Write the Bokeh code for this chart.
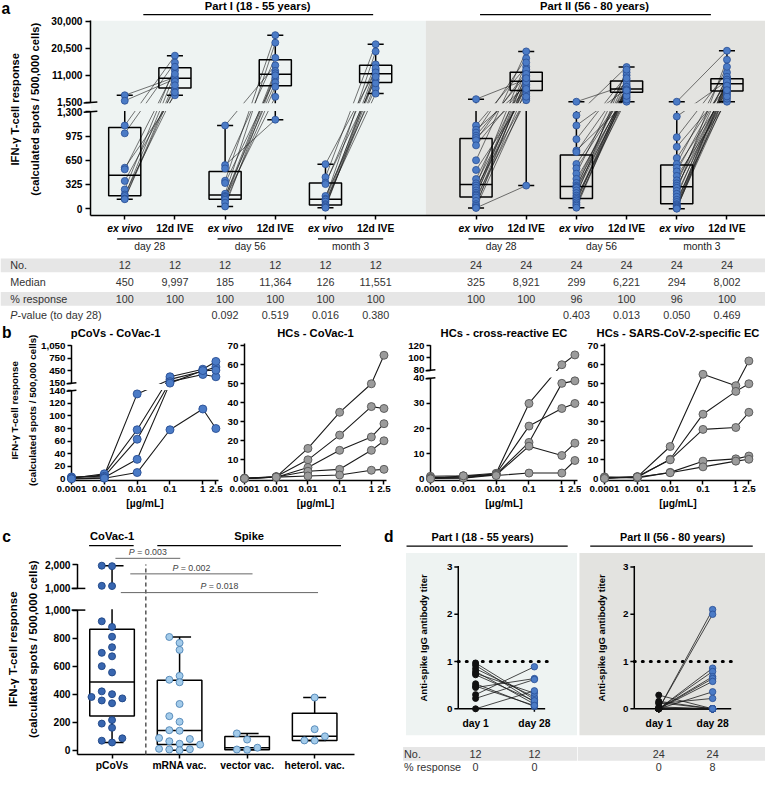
import numpy as np
from bokeh.plotting import figure
from bokeh.models import Range1d, FixedTicker
from bokeh.layouts import row, column
from bokeh.embed import file_html
from bokeh.resources import INLINE
from bokeh.core.properties import value

# ======================= DATA =======================
a_parts = ["Part I (18 - 55 years)", "Part II (56 - 80 years)"]
a_timepoints = ["day 28", "day 56", "month 3"]
a_conditions = ["ex vivo", "12d IVE"]

p1_d28_exvivo = [4000, 2080, 1117, 1012, 550, 528, 372, 258, 190, 170, 135, 127]
p1_d28_ive = [10300, 9694, 17900, 15500, 4000, 12800, 6200, 14000, 5000, 11500, 8800, 7500]
p1_d56_exvivo = [1117, 585, 540, 376, 344, 200, 170, 160, 140, 120, 80, 30]
p1_d56_ive = [14500, 1195, 17130, 25100, 10000, 22460, 8500, 12550, 3450, 11728, 7000, 11000]
p1_m3_exvivo = [598, 423, 350, 330, 170, 132, 120, 95, 60, 45, 25, 13]
p1_m3_ive = [12800, 21900, 9500, 14840, 6500, 19390, 11100, 4580, 13500, 8200, 12002, 10500]

p2_d28_exvivo = [2630, 1117, 1060, 1021, 980, 950, 920, 850, 650, 520, 397, 340,
                 310, 279, 245, 213, 190, 175, 150, 105, 61, 39, 17, 10]
p2_d28_ive = [9600, 14000, 7300, 17000, 11000, 5500, 12300, 8300, 19390, 4500, 10500, 6800,
              15500, 3000, 9142, 13000, 7800, 11500, 2290, 8700, 6200, 10000, 3500, 310]
p2_d56_exvivo = [1740, 1253, 1117, 933, 781, 760, 600, 541, 470, 400, 345, 308,
                 290, 280, 245, 210, 175, 150, 130, 110, 85, 60, 40, 13]
p2_d56_ive = [7600, 13910, 6180, 11000, 1740, 9300, 6400, 5900, 12000, 4500, 8300, 6000,
              10000, 3200, 6700, 5400, 13000, 2500, 6262, 5000, 7000, 3800, 6100, 5700]
p2_m3_exvivo = [1740, 1238, 960, 830, 680, 600, 550, 500, 440, 380, 340, 308,
                280, 240, 200, 160, 120, 90, 60, 45, 30, 15, 5, 0]
p2_m3_ive = [19630, 9000, 12000, 6600, 8500, 14000, 5400, 9900, 1740, 7000, 10500, 4300,
             8204, 16500, 6200, 9300, 2800, 7800, 9500, 5000, 8800, 3600, 7400, 5800]

a_ticks_low = [0, 325, 650, 975, 1300]
a_ticks_high = [1500, 11000, 20500, 30000]

tab_rows = ["No.", "Median", "% response", "P-value (to day 28)"]
tab_no = ["12"] * 6 + ["24"] * 6
tab_median = ["450", "9,997", "185", "11,364", "126", "11,551", "325", "8,921", "299", "6,221", "294", "8,002"]
tab_resp = ["100"] * 6 + ["100", "100", "96", "100", "96", "100"]
tab_p = ["", "", "0.092", "0.519", "0.016", "0.380", "", "", "0.403", "0.013", "0.050", "0.469"]

b_conc = [0.0001, 0.001, 0.01, 0.1, 1, 2.5]
b_conc_labels = ["0.0001", "0.001", "0.01", "0.1", "1", "2.5"]
b_titles = ["pCoVs - CoVac-1", "HCs - CoVac-1", "HCs - cross-reactive EC", "HCs - SARS-CoV-2-specific EC"]
b_pcovs_covac1 = [[2, 6, 135, 244, 440, 541],
                  [1, 8, 78, 307, 488, 675],
                  [3, 4, 63, 190, 361, 307],
                  [1, 2, 31, 155, 455, 464],
                  [0, 1, 10, 78, 111, 80]]
b_hcs_covac1 = [[0.3, 1.0, 16, 35, 50, 65],
                [0.2, 1.2, 10, 23, 38, 37],
                [0.3, 0.8, 6, 15, 22, 29],
                [0.1, 1.0, 4, 5, 15, 20],
                [0.2, 0.9, 1.5, 2, 4.5, 5]]
b_hcs_cross_ec = [[1.0, 1.2, 2.2, 30, 89, 105],
                  [0.5, 0.8, 2.0, 21, 28, 30],
                  [0.3, 0.5, 1.8, 14.5, 38, 39],
                  [0.2, 0.3, 1.5, 13, 9.3, 14.2],
                  [0.0, 1.2, 1.3, 2.3, 2.3, 7.3]]
b_hcs_sars_ec = [[0.5, 1.0, 17, 55, 49, 62],
                 [1.0, 0.8, 10.3, 34, 46, 50],
                 [0.3, 1.2, 10, 26, 27, 35],
                 [0.8, 0.5, 3.4, 9.3, 10.5, 12],
                 [0.2, 1.0, 3.2, 6.3, 9.3, 10.3]]
b1_ticks_low = [0, 20, 40, 60, 80, 100, 120, 140]
b1_ticks_high = [150, 450, 750, 1050]
b24_ticks = [0, 10, 20, 30, 40, 50, 60, 70]
b3_ticks_low = [0, 10, 20, 30, 40]
b3_ticks_high = [80, 100, 120]

c_groups = ["pCoVs", "mRNA vac.", "vector vac.", "heterol. vac."]
c_pcovs = [1960, 1940, 1110, 1100, 920, 880, 810, 735, 695, 670, 600, 555,
           420, 400, 380, 370, 355, 335, 215, 190, 160, 85, 68, 55]
c_mrna = [808, 766, 716, 531, 503, 485, 330, 243, 203, 143, 139, 87, 80, 64, 46, 40, 10, 7, 5, 0]
c_vector = [120, 76, 18, 5, 3]
c_heterol = [376, 150, 99, 70, 69]
c_headers = ["CoVac-1", "Spike"]
c_pvalues = ["0.003", "0.002", "0.018"]
c_ticks_low = [0, 200, 400, 600, 800, 1000]
c_ticks_high = [1000, 2000]

d_days = ["day 1", "day 28"]
d_cutoff = 1.0
d1_day1 = [0.97, 0.92, 0.85, 0.79, 0.75, 0.72, 0.53, 0.48, 0.45, 0.30, 0.22, 0.00]
d1_day28 = [0.20, 0.14, 0.25, 0.10, 0.33, 0.17, 0.05, 0.07, 0.64, 0.89, 0.62, 0.38]
d2_day1 = [0.29, 0.16, 0.13, 0.11, 0.04, 0.02] + [0.0] * 18
d2_day28 = [0.0, 0.0, 0.0, 0.22, 0.0, 0.0, 2.10, 2.00, 0.86, 0.79, 0.68, 0.64, 0.58, 0.36] + [0.0] * 10
d1_tab_no, d1_tab_resp = ["12", "12"], ["0", "0"]
d2_tab_no, d2_tab_resp = ["24", "24"], ["0", "8"]
d_ticks = [0, 1, 2, 3]

Y_LINES = ["IFN-\u03b3 T-cell response", "(calculated spots / 500,000 cells)"]
D_YLABEL = "Anti-spike IgG antibody titer"

# ======================= STYLE / HELPERS =======================
K = 0.978
def s(v):
    return int(round(v * K))
def fs(v):
    return "%.1fpx" % (v * K)

FONT = "Liberation Sans"
BLACK = "#111111"
BLUE, BLUE_D = "#4b7bc6", "#284e94"
GRAY, GRAY_D = "#9b9b9b", "#555555"
CDARK, CDARK_D = "#3866b0", "#1d4483"
CLIGHT, CLIGHT_D = "#a3cbea", "#4f85b6"
BG1, BG2 = "#eef3f2", "#e3e3e0"
BAND = "#e6e6e6"
VERT = np.pi / 2


def key(v):
    v = float(v)
    return int(v) if v.is_integer() else v


def make_fig(box, frame, xr, yr, x_type="linear", axes=True):
    x0, y0, x1, y1 = box
    fl, ft, fr, fb = frame
    kw = dict(width=s(x1) - s(x0), height=s(y1) - s(y0), x_range=xr, y_range=yr,
              x_axis_type=x_type, toolbar_location=None, output_backend="svg", title=None,
              min_border_left=s(fl) - s(x0), min_border_right=s(x1) - s(fr),
              min_border_top=s(ft) - s(y0), min_border_bottom=s(y1) - s(fb))
    if not axes:
        kw.update(x_axis_location=None, y_axis_location=None)
    p = figure(**kw)
    p.outline_line_color = None
    p.grid.visible = False
    p.frame_align = False
    return p


def style_axes(p, xsize, ysize, xtick=4, ytick=5, xstand=2, ystand=3):
    for ax, size, tick, st in ((p.xaxis, xsize, xtick, xstand), (p.yaxis, ysize, ytick, ystand)):
        ax.axis_line_width = 1.5
        ax.axis_line_color = "black"
        ax.major_tick_line_width = 1.5
        ax.major_tick_line_color = "black"
        ax.major_tick_out = tick
        ax.major_tick_in = 0
        ax.minor_tick_line_color = None
        ax.major_label_text_font = FONT
        ax.major_label_text_font_style = "bold"
        ax.major_label_text_font_size = fs(size)
        ax.major_label_text_color = "black"
        ax.major_label_standoff = st


def set_yticks(p, vals, tf):
    ts = [key(round(float(tf(v)), 3)) for v in vals]
    p.yaxis.ticker = FixedTicker(ticks=ts)
    p.yaxis.major_label_overrides = {t: f"{v:,}" for t, v in zip(ts, vals)}


def txt(p, xs, ys, texts, size, style="bold", align="center", baseline="middle", color="black", angle=0.0):
    p.text(x=list(xs), y=list(ys), text=list(texts), text_font=value(FONT),
           text_font_size=fs(size), text_font_style=style, text_align=align,
           text_baseline=baseline, text_color=color, angle=angle, level="overlay")


def draw_boxes(p, positions, datasets, tf, hw, cw, lw=1.5):
    L, R, B, T = [], [], [], []
    sx0, sy0, sx1, sy1 = [], [], [], []
    for x, d in zip(positions, datasets):
        v = np.asarray(d, float)
        q1, med, q3 = np.percentile(v, [25, 50, 75], method="weibull")
        lo, hi = v.min(), v.max()
        L.append(x - hw); R.append(x + hw)
        B.append(float(tf(q1))); T.append(float(tf(q3)))
        for xa, ya, xb, yb in [(x - hw, med, x + hw, med), (x, q3, x, hi), (x, q1, x, lo),
                               (x - cw, hi, x + cw, hi), (x - cw, lo, x + cw, lo)]:
            sx0.append(xa); sy0.append(float(tf(ya))); sx1.append(xb); sy1.append(float(tf(yb)))
    p.quad(left=L, right=R, bottom=B, top=T, fill_color=None, line_color="black", line_width=lw)
    p.segment(x0=sx0, y0=sy0, x1=sx1, y1=sy1, line_color="black", line_width=lw)


def swarm(tv, thr=6.5):
    order = np.argsort(tv, kind="stable")
    placed = []
    offs = np.zeros(len(tv))
    cands = [0] + [c for j in range(1, 8) for c in (-j, j)]
    for i in order:
        for c in cands:
            if all(not (o == c and abs(tv[i] - t) < thr) for o, t in placed):
                break
        offs[i] = c
        placed.append((c, tv[i]))
    return offs

# ======================= PANEL a =======================
A_X0, A_U = 127.0, 51.3
A_POS = [0, 1, 2, 3, 4, 5, 7, 8, 9, 10, 11, 12]


def ta(v):
    v = np.asarray(v, dtype=float)
    return np.where(v <= 1400, v * 99.3 / 1300, 109.0 + (v - 1500) * 83.3 / 28500)


pa = make_fig((0, 0, 782, 258), (92, 20, 782, 220),
              Range1d((92 - A_X0) / A_U, (782 - A_X0) / A_U), Range1d(-7, 193))
xa0, xa1 = pa.x_range.start, pa.x_range.end
style_axes(pa, 10.5, 10.4, xtick=4, ytick=5, xstand=2, ystand=3)
pa.xaxis.ticker = FixedTicker(ticks=A_POS)
pa.xaxis.major_label_text_color = None
pa.yaxis.axis_line_color = None
set_yticks(pa, a_ticks_low + a_ticks_high, ta)

pa.quad(left=[xa0, 6], right=[6, xa1], bottom=[-7, -7], top=[193, 193],
        fill_color=[BG1, BG2], line_color=None, level="underlay")

a_sets = [(p1_d28_exvivo, p1_d28_ive), (p1_d56_exvivo, p1_d56_ive), (p1_m3_exvivo, p1_m3_ive),
          (p2_d28_exvivo, p2_d28_ive), (p2_d56_exvivo, p2_d56_ive), (p2_m3_exvivo, p2_m3_ive)]
lx0, ly0, lx1, ly1 = [], [], [], []
for k, (ex, ive) in enumerate(a_sets):
    xe, xi = A_POS[2 * k], A_POS[2 * k + 1]
    lx0 += [xe] * len(ex); lx1 += [xi] * len(ive)
    ly0 += list(ta(ex)); ly1 += list(ta(ive))
pa.segment(x0=lx0, y0=ly0, x1=lx1, y1=ly1, line_color="#1a1a1a", line_width=0.6)

a_all = [d for pair in a_sets for d in pair]
draw_boxes(pa, A_POS, a_all, ta, 0.32, 0.16)
pa.quad(left=[xa0, 6], right=[6, xa1], bottom=[100.3, 100.3], top=[108.1, 108.1],
        fill_color=[BG1, BG2], line_color=None)
pxs, pys = [], []
for x, d in zip(A_POS, a_all):
    pxs += [x] * len(d); pys += list(ta(d))
pa.scatter(x=pxs, y=pys, size=7, fill_color=BLUE, line_color=BLUE_D, line_width=0.8, level="overlay")

dx = 7 / A_U
pa.segment(x0=[xa0, xa0], y0=[-7, 109], x1=[xa0, xa0], y1=[99.3, 193], line_color="black",
           line_width=1.5, level="overlay")
pa.segment(x0=[xa0 - dx] * 2, y0=[98.8, 108.5], x1=[xa0 + dx] * 2, y1=[99.8, 109.5],
           line_color="black", line_width=1.5, level="overlay")

txt(pa, [(15 - A_X0) / A_U, (35 - A_X0) / A_U], [102, 102], Y_LINES, 11.5, angle=VERT)
txt(pa, A_POS[0::2], [-20] * 6, [a_conditions[0]] * 6, 10.5, style="bold italic")
txt(pa, A_POS[1::2], [-20] * 6, [a_conditions[1]] * 6, 10.5)
g_cent = [(A_POS[2 * k] + A_POS[2 * k + 1]) / 2 for k in range(6)]
pa.segment(x0=[c - 0.65 for c in g_cent], y0=[-31] * 6, x1=[c + 0.65 for c in g_cent], y1=[-31] * 6,
           line_color="black", line_width=1.2, level="overlay")
txt(pa, g_cent, [-39] * 6, a_timepoints * 2, 10.5, style="normal", color="#222222")
txt(pa, [2.65, 9.36], [207.5, 207.5], a_parts, 11.5)
pa.segment(x0=[0.37, 7.08], y0=[199, 199], x1=[4.95, 11.68], y1=[199, 199], line_color="black",
           line_width=1.2, level="overlay")
txt(pa, [(1 - A_X0) / A_U], [205.5], ["a"], 16, align="left")

# ---- table a
pt = make_fig((0, 258, 782, 329), (0, 258, 782, 329), Range1d(0, 782), Range1d(329, 258), axes=False)
ROWS = [271, 288, 305, 321]
pt.quad(left=[0, 0], right=[782, 782], bottom=[ROWS[0] + 7, ROWS[2] + 7], top=[ROWS[0] - 7, ROWS[2] - 7],
        fill_color=BAND, line_color=None)
txt(pt, [10, 10, 10], ROWS[:3], tab_rows[:3], 11, style="normal", align="left", color="#333333")
txt(pt, [10], [ROWS[3]], [tab_rows[3][0]], 11, style="italic", align="left", color="#333333")
txt(pt, [17.5], [ROWS[3]], [tab_rows[3][1:]], 11, style="normal", align="left", color="#333333")
col_px = [A_X0 + A_U * x for x in A_POS]
for r, vals in zip(ROWS, [tab_no, tab_median, tab_resp, tab_p]):
    txt(pt, col_px, [r] * 12, vals, 11, style="normal", color="#333333")

# ======================= PANEL b =======================
B_PPD = 33.5
def bx(dpx):
    return 10 ** (-4 + dpx / B_PPD)

def tb1(v):
    v = np.asarray(v, float)
    return np.where(v <= 145, v * 90 / 140, 97.6 + (v - 150) * 12.8 / 300)

def tb2(v):
    return np.asarray(v, float) * 136 / 70

def tb3(v):
    v = np.asarray(v, float)
    return np.where(v <= 60, v * 102.7 / 40, 111 + (v - 80) * 12.5 / 20)

b_data = [b_pcovs_covac1, b_hcs_covac1, b_hcs_cross_ec, b_hcs_sars_ec]
b_boxes = [(0, 329, 229, 540), (229, 329, 412, 540), (412, 329, 594, 540), (594, 329, 782, 540)]
b_frames = [(73, 351, 223, 491), (245, 351, 395, 491), (440, 351, 590, 491), (618, 351, 768, 491)]
b_tfs = [tb1, tb2, tb3, tb2]
b_ticks = [b1_ticks_low + b1_ticks_high, b24_ticks, b3_ticks_low + b3_ticks_high, b24_ticks]
b_breaks = [(90, 97.6), None, (102.7, 111), None]
b_title_dx = [45, 75, 75, 75]
b_fill = [(BLUE, BLUE_D), (GRAY, GRAY_D), (GRAY, GRAY_D), (GRAY, GRAY_D)]
b_figs = []
for i in range(4):
    tf = b_tfs[i]
    p = make_fig(b_boxes[i], b_frames[i], Range1d(1e-4, bx(150)), Range1d(-1.7, 138.3), x_type="log")
    style_axes(p, 10, 10, xtick=4, ytick=4, xstand=1, ystand=2)
    p.xaxis.ticker = FixedTicker(ticks=b_conc)
    p.xaxis.major_label_overrides = {key(c): l for c, l in zip(b_conc, b_conc_labels)}
    p.xaxis.axis_label = "[\u00b5g/mL]"
    p.xaxis.axis_label_text_font = FONT
    p.xaxis.axis_label_text_font_style = "bold"
    p.xaxis.axis_label_text_color = "black"
    p.xaxis.axis_label_text_font_size = fs(10.5)
    p.xaxis.axis_label_standoff = 3
    set_yticks(p, b_ticks[i], tf)
    p.multi_line(xs=[b_conc] * len(b_data[i]), ys=[list(tf(d)) for d in b_data[i]],
                 line_color="#1a1a1a", line_width=1.1)
    if b_breaks[i] is not None:
        lo, hi = b_breaks[i]
        p.yaxis.axis_line_color = None
        p.quad(left=[1e-4], right=[bx(150)], bottom=[lo + 0.8], top=[hi - 0.8], fill_color="white",
               line_color=None)
        p.segment(x0=[1e-4, 1e-4], y0=[-1.7, hi], x1=[1e-4, 1e-4], y1=[lo, 136.6], line_color="black",
                  line_width=1.5, level="overlay")
        p.segment(x0=[bx(-5)] * 2, y0=[lo - 0.5, hi - 0.5], x1=[bx(5)] * 2, y1=[lo + 0.5, hi + 0.5],
                  line_color="black", line_width=1.5, level="overlay")
    xs, ys = [], []
    for d in b_data[i]:
        xs += b_conc; ys += list(tf(d))
    p.scatter(x=xs, y=ys, size=8, fill_color=b_fill[i][0], line_color=b_fill[i][1], line_width=0.9,
              level="overlay")
    txt(p, [bx(b_title_dx[i])], [149.3], [b_titles[i]], 11.5)
    if i == 0:
        txt(p, [bx(-71)], [149.3], ["b"], 16, align="left")
        txt(p, [bx(15 - 73), bx(33 - 73)], [70, 70], Y_LINES, 10, angle=VERT)
    b_figs.append(p)

# ======================= PANEL c =======================
C_X0, C_U = 114.3, 69.0

def tc(v):
    v = np.asarray(v, float)
    return np.where(v <= 1000, v * 0.1443, 166.6 + (v - 1000) * 0.0244)

pc = make_fig((0, 540, 392, 790), (79, 575, 362, 772.7),
              Range1d((79 - C_X0) / C_U, (362 - C_X0) / C_U), Range1d(-4.4, 193.3))
xc0, xc1 = pc.x_range.start, pc.x_range.end
style_axes(pc, 10.5, 10.4, xtick=4, ytick=5, xstand=1, ystand=2)
pc.xaxis.ticker = FixedTicker(ticks=[0, 1, 2, 3])
pc.xaxis.major_label_overrides = {i: g for i, g in enumerate(c_groups)}
c_tick_t = [key(round(v * 0.1443, 3)) for v in c_ticks_low] + \
           [key(round(166.6 + (v - 1000) * 0.0244, 3)) for v in c_ticks_high]
pc.yaxis.ticker = FixedTicker(ticks=c_tick_t)
pc.yaxis.major_label_overrides = {t: f"{v:,}" for t, v in zip(c_tick_t, c_ticks_low + c_ticks_high)}
pc.yaxis.axis_line_color = None

c_data = [c_pcovs, c_mrna, c_vector, c_heterol]
draw_boxes(pc, [0, 1, 2, 3], c_data, tc, 0.33, 0.17)
pc.quad(left=[xc0], right=[xc1], bottom=[145.2], top=[165.7], fill_color="white", line_color=None)
pc.segment(x0=[0.5], y0=[-4.4], x1=[0.5], y1=[191.3], line_color="#555555", line_width=1.5,
           line_dash="4 3", level="overlay")
br_y = [197.6, 181.6, 162.3]
br_x0 = [0.05, 0.27, 0.13]
br_x1 = [1.01, 2.08, 3.05]
pc.segment(x0=br_x0, y0=br_y, x1=br_x1, y1=br_y, line_color="#666666", line_width=1, level="overlay")
br_c = [(a + b) / 2 for a, b in zip(br_x0, br_x1)]
anch = [c - 13.4 / C_U for c in br_c]
txt(pc, anch, [y + 1.2 for y in br_y], ["P"] * 3, 9, style="italic", align="right",
    baseline="bottom", color="#444444")
txt(pc, anch, [y + 1.2 for y in br_y], ["\u00a0= " + pv for pv in c_pvalues], 9, style="normal",
    align="left", baseline="bottom", color="#444444")
for gi, d in enumerate(c_data):
    tv = tc(d)
    offs = swarm(tv) * 10.5 / C_U
    fc, lc = (CDARK, CDARK_D) if gi == 0 else (CLIGHT, CLIGHT_D)
    pc.scatter(x=list(gi + offs), y=list(tv), size=7, fill_color=fc, line_color=lc, line_width=0.9,
               level="overlay")
dcx = 1 / C_U
pc.segment(x0=[xc0, xc0], y0=[-4.4, 166.6], x1=[xc0, xc0], y1=[144.3, 191.7], line_color="black",
           line_width=1.5, level="overlay")
pc.segment(x0=[xc0 - 6 * dcx] * 2, y0=[144.3, 166.6], x1=[xc0 + 8 * dcx] * 2, y1=[144.3, 166.6],
           line_color="black", line_width=1.5, level="overlay")
txt(pc, [(13.3 - C_X0) / C_U, (33.3 - C_X0) / C_U], [104, 104], Y_LINES, 11.8, angle=VERT)
txt(pc, [0.0, 2.03], [220.3, 220.3], c_headers, 11.5)
pc.segment(x0=[-0.34, 0.67], y0=[210.6, 210.6], x1=[0.32, 3.39], y1=[210.6, 210.6],
           line_color="black", line_width=1.2, level="overlay")
txt(pc, [(2 - C_X0) / C_U], [220.3], ["c"], 16, align="left")

# ======================= PANEL d =======================
D_PPU = 48.23          # px per titer unit
D_ZERO = 724.0         # y (px) of titer 0


def make_d(box, axis_box, cat_px, u, bg, bg_x, day1, day28, dot_end_px, label_px, part, head_cx,
           head_x0, head_x1, tab_no, tab_resp, band_x0, row_lab_px=None, letter_px=None):
    bx0, by0, bx1, by1 = box
    al, at, ar, ab = axis_box
    X = lambda px: (px - cat_px) / u
    Y = lambda py: (D_ZERO - py) / D_PPU
    p = make_fig(box, box, Range1d(X(bx0), X(bx1)), Range1d(Y(by1), Y(by0)), axes=False)
    p.quad(left=[X(bg_x[0])], right=[X(bg_x[1])], bottom=[Y(751)], top=[Y(565)], fill_color=bg,
           line_color=None, level="underlay")
    ax0 = X(al)
    p.segment(x0=[ax0, ax0], y0=[Y(ab), Y(ab)], x1=[ax0, X(ar)], y1=[Y(at) + 0.02, Y(ab)],
              line_color="black", line_width=1.5)
    p.segment(x0=[X(al - 4)] * len(d_ticks), y0=d_ticks, x1=[ax0] * len(d_ticks), y1=d_ticks,
              line_color="black", line_width=1.5)
    p.segment(x0=[0, 1], y0=[0, 0], x1=[0, 1], y1=[Y(ab + 3)] * 2, line_color="black", line_width=1.5)
    txt(p, [X(al - 6)] * len(d_ticks), d_ticks, [str(t) for t in d_ticks], 10, align="right")
    txt(p, [0, 1], [Y(738.5)] * 2, d_days, 10.5)
    txt(p, [X(label_px)], [1.5], [D_YLABEL], 9.7, angle=VERT)
    p.line(x=[ax0, X(dot_end_px)], y=[d_cutoff, d_cutoff], line_color="black",
           line_width=3, line_dash="1 7", line_cap="round")
    n = len(day1)
    p.segment(x0=[0] * n, y0=day1, x1=[1] * n, y1=day28, line_color="#1a1a1a", line_width=0.8)
    p.scatter(x=[0] * n, y=day1, size=6, fill_color=BLACK, line_color=BLACK, level="overlay")
    p.scatter(x=[1] * n, y=day28, size=6.5, fill_color=BLUE, line_color=BLUE_D, line_width=0.8,
              level="overlay")
    txt(p, [X(head_cx)], [Y(548.5)], [part], 11)
    p.segment(x0=[X(head_x0)], y0=[Y(558)], x1=[X(head_x1)], y1=[Y(558)], line_color="black",
              line_width=1.2)
    if letter_px is not None:
        txt(p, [X(letter_px)], [Y(548.5)], ["d"], 16, align="left")
    p.quad(left=[X(band_x0)], right=[X(bx1)], bottom=[Y(777)], top=[Y(763)], fill_color=BAND,
           line_color=None, level="underlay")
    if row_lab_px is not None:
        txt(p, [X(row_lab_px)] * 2, [Y(770), Y(783)], [tab_rows[0], tab_rows[2]], 11, style="normal",
            align="left", color="#333333")
    txt(p, [0, 1], [Y(770)] * 2, tab_no, 11, style="normal", color="#333333")
    txt(p, [0, 1], [Y(783)] * 2, tab_resp, 11, style="normal", color="#333333")
    return p


pd1 = make_d((392, 540, 590, 790), (468.3, 579.3, 557, 724), 486.0, 60.0, BG1, (415, 590),
             d1_day1, d1_day28, 564, 433, a_parts[0], 493, 415.5, 580, d1_tab_no, d1_tab_resp, 412,
             row_lab_px=413, letter_px=392.5)
pd2 = make_d((590, 540, 782, 790), (648, 579.3, 747, 724), 673.0, 55.0, BG2, (592, 782),
             d2_day1, d2_day28, 748, 615, a_parts[1], 687, 603, 769, d2_tab_no, d2_tab_resp, 590)

layout = column(pa, pt, row(*b_figs), row(pc, pd1, pd2))

open("out.html", "w").write(file_html(layout, INLINE, "Figure"))
